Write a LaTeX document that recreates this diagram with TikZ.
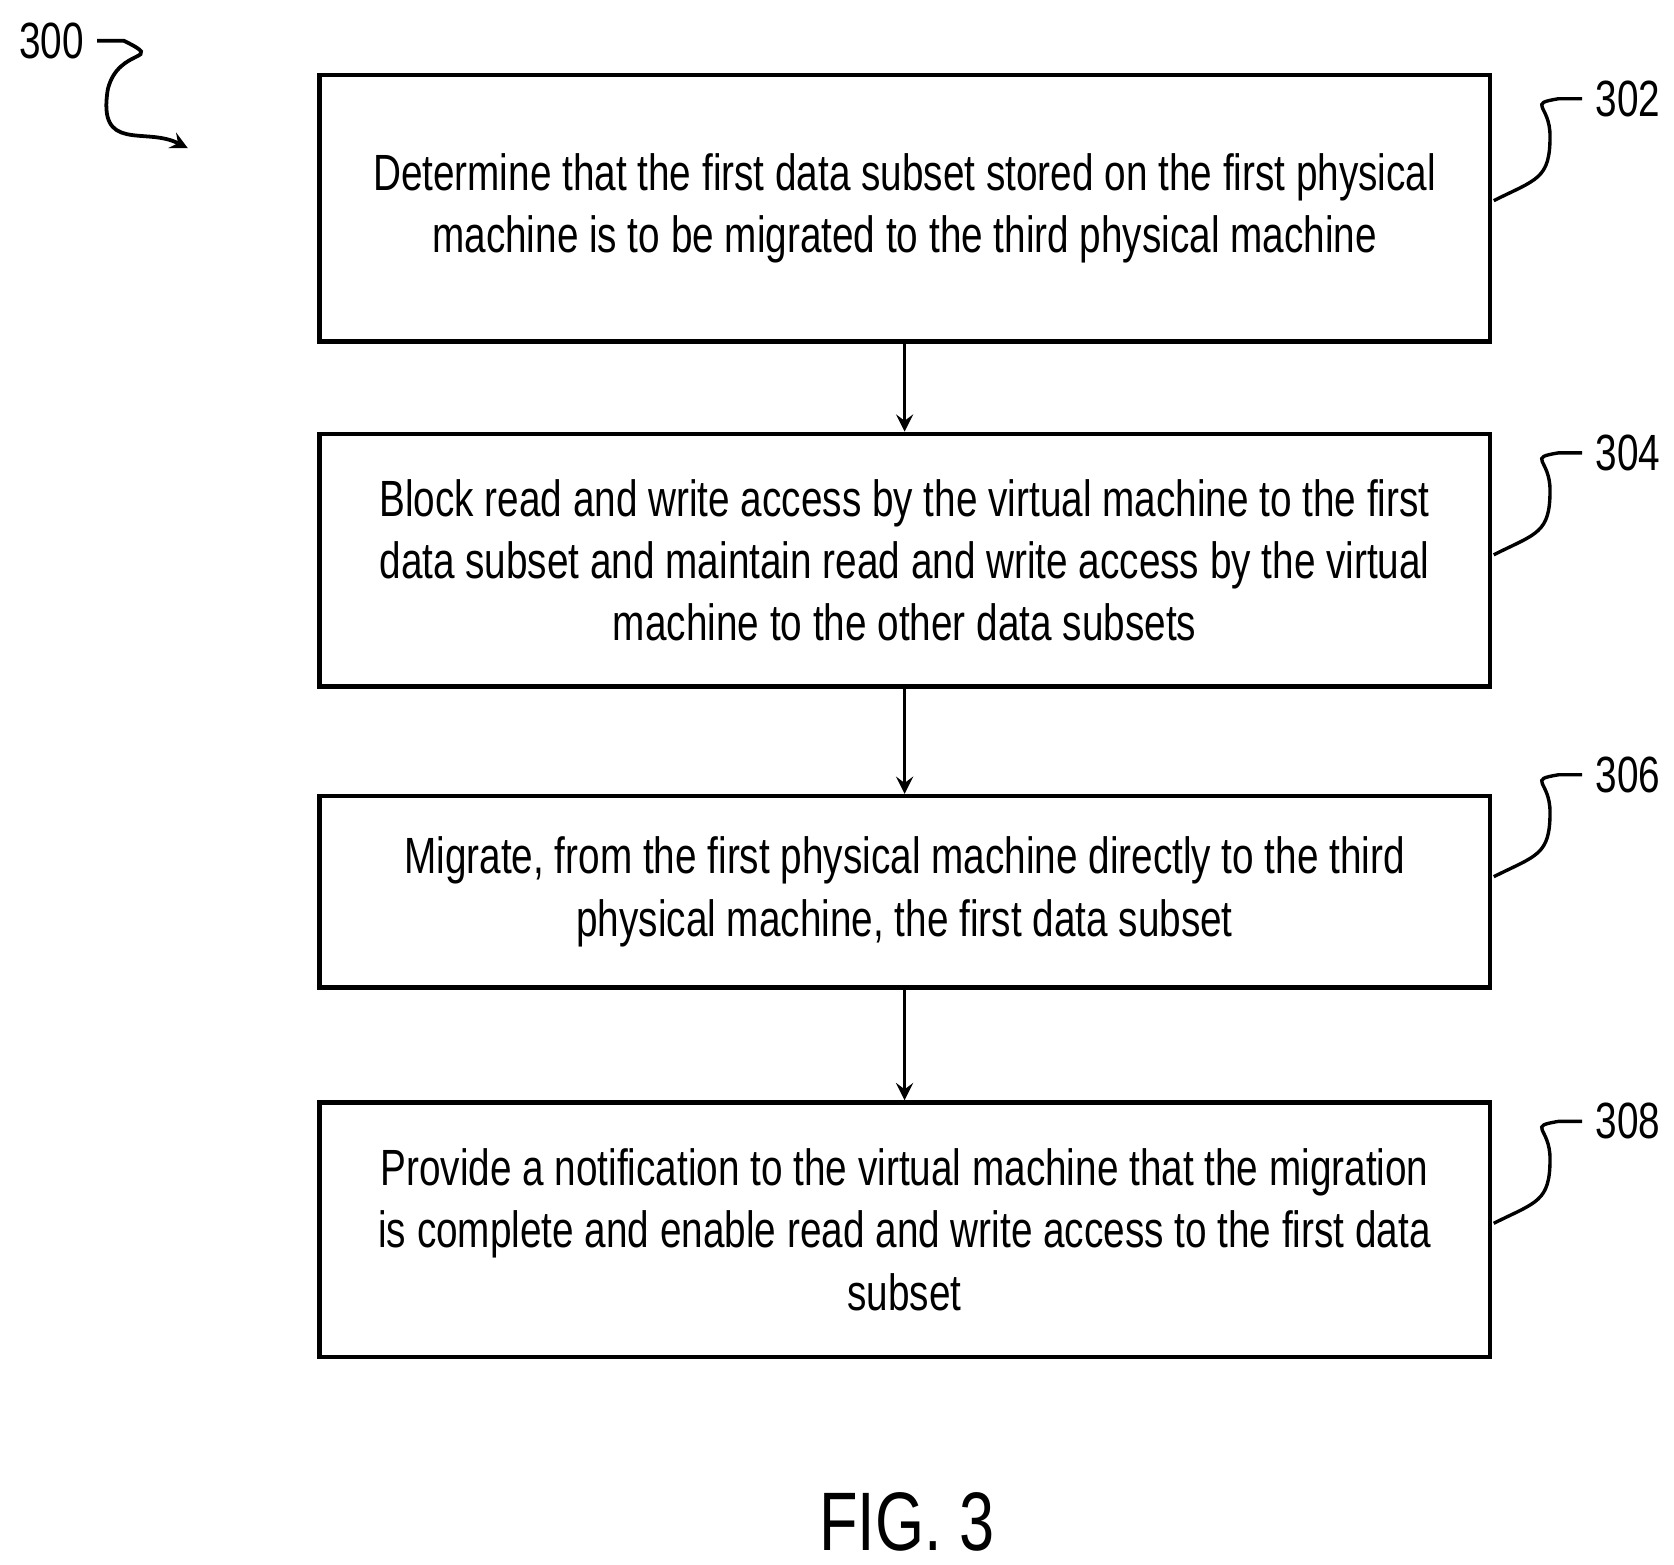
\documentclass[tikz,border=0pt]{standalone}
\usepackage{fontspec}
\setmainfont[FakeStretch=0.76]{Liberation Sans}
\usetikzlibrary{positioning}
\begin{document}
\begin{tikzpicture}[x=0.01cm,y=-0.01cm,
  stepbox/.style={draw, line width=1.2pt, minimum width=10.9cm, align=center, font=\fontsize{13.5}{16.5}\selectfont},
  flow/.style={->, >=stealth, line width=1pt},
  tag/.style={font=\fontsize{13.5}{16}\selectfont}]
\useasboundingbox (0,0) rectangle (1560,1458);
%steps
\node[stepbox, minimum height=2.48cm] (s302) at (843,194) {Determine that the first data subset stored on the first physical\\machine is to be migrated to the third physical machine};
\node[stepbox, minimum height=2.35cm] (s304) at (843,522) {Block read and write access by the virtual machine to the first\\data subset and maintain read and write access by the virtual\\machine to the other data subsets};
\node[stepbox, minimum height=1.78cm] (s306) at (843,831) {Migrate, from the first physical machine directly to the third\\physical machine, the first data subset};
\node[stepbox, minimum height=2.37cm] (s308) at (843,1146) {Provide a notification to the virtual machine that the migration\\is complete and enable read and write access to the first data\\subset};
%arrows
\draw[flow] (s302) -- (s304);
\draw[flow] (s304) -- (s306);
\draw[flow] (s306) -- (s308);
%reference numerals
\foreach \n/\y in {302/92, 304/422, 306/722, 308/1045} {
  \node[tag] (l\n) at (1517,\y) {\n};
  \draw[line width=0.9pt] (l\n.west) -- +(-22,0) .. controls +(-30,5) and +(0,-30) .. +(-30,35) .. controls +(0,40) and +(40,-20) .. (1392,\y+95);
}
\node[tag] (l300) at (48,38) {300};
\coordinate (a300) at (175,138);
\draw[flow] (l300.east) -- +(25,0) .. controls +(40,20) and +(10,-40) .. +(10,45) .. controls +(-10,60) and +(-40,-20) .. (a300);
\node[font=\fontsize{22}{26}\selectfont] (fig) at (845,1418) {FIG. 3};
\end{tikzpicture}
\end{document}
